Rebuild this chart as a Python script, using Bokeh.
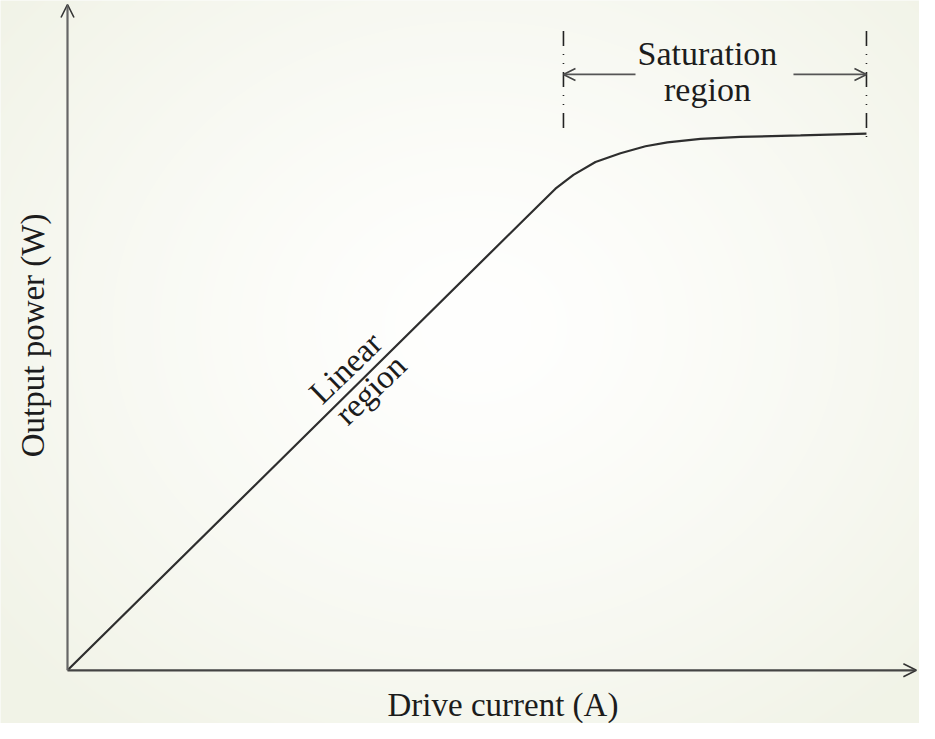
import numpy as np
from bokeh.plotting import figure
from bokeh.models import Range1d, Arrow, OpenHead
from bokeh.core.properties import value
from bokeh.embed import file_html
from bokeh.resources import INLINE

# ---- data (arbitrary units) ----
curve_x = [0.0, 5.449, 5.622, 5.829, 6.083, 6.371, 6.659, 6.912, 7.293, 7.753, 8.445, 9.205]
curve_y = [0.0, 6.991, 7.212, 7.419, 7.611, 7.743, 7.847, 7.906, 7.957, 7.987, 8.009, 8.038]

sat_left_x = 5.714
sat_right_x = 9.205
sat_top_y = 9.572
sat_left_bottom_y = 8.009
sat_right_bottom_y = 7.950
sat_arrow_y = 8.923
sat_arrow_left_tail = 6.544
sat_arrow_right_tail = 8.364

x_axis_end = 9.78
y_axis_end = 9.97

x_label = "Drive current (A)"
y_label = "Output power (W)"
sat_labels = ["Saturation", "region"]
lin_labels = ["Linear", "region"]

W, H = 919, 723
x0, x1 = -0.7719, 9.816
y0, y1 = -0.7965, 10.030

p = figure(width=W, height=H, x_range=Range1d(x0, x1), y_range=Range1d(y0, y1),
           x_axis_type=None, y_axis_type=None, toolbar_location=None,
           output_backend="svg", min_border=0)
p.outline_line_color = None
p.grid.visible = False
p.background_fill_color = "#f8f9f3"
p.border_fill_color = "#f8f9f3"

# background radial gradient (styling only)
yy, xx = np.mgrid[0:H, 0:W]
cx, cy = 475, 325
r = np.sqrt(((xx - cx) / 620.0) ** 2 + ((yy - cy) / 520.0) ** 2)
t = np.clip(r, 0, 1) ** 1.3
c_in = np.array([255, 255, 254])
c_out = np.array([241, 243, 231])
rgb = c_in[None, None, :] * (1 - t[..., None]) + c_out[None, None, :] * t[..., None]
rgb = rgb[::-1].astype(np.uint32)
img = (255 << 24) | (rgb[..., 2] << 16) | (rgb[..., 1] << 8) | rgb[..., 0]
img = img.astype(np.uint32)
p.image_rgba(image=[img], x=x0, y=y0, dw=x1 - x0, dh=y1 - y0)

font = value("Liberation Serif")
tc = "#1c1c1c"

# axes with arrowheads
p.add_layout(Arrow(end=OpenHead(size=13, line_color="#333333", line_width=1.6),
                   x_start=0, y_start=0, x_end=x_axis_end, y_end=0,
                   line_color="#444444", line_width=2.2))
p.add_layout(Arrow(end=OpenHead(size=13, line_color="#333333", line_width=1.6),
                   x_start=0, y_start=0, x_end=0, y_end=y_axis_end,
                   line_color="#666666", line_width=2.2))

# curve
p.line(curve_x, curve_y, line_color="#2e2e2e", line_width=2.2)

# saturation boundaries
p.segment(x0=[sat_left_x, sat_right_x], y0=[sat_top_y, sat_top_y],
          x1=[sat_left_x, sat_right_x], y1=[sat_left_bottom_y, sat_right_bottom_y],
          line_color="#222222", line_width=1.6, line_dash="15 8 1 8 1 8")

# saturation arrows
for tail, tip in [(sat_arrow_left_tail, sat_left_x), (sat_arrow_right_tail, sat_right_x)]:
    p.add_layout(Arrow(end=OpenHead(size=12, line_color="#444444", line_width=1.6),
                       x_start=tail, y_start=sat_arrow_y, x_end=tip, y_end=sat_arrow_y,
                       line_color="#555555", line_width=1.8))

# texts
p.text(x=[7.373, 7.373], y=[9.236, 8.690], text=sat_labels, text_font=font,
       text_font_size="34px", text_align="center", text_baseline="middle",
       text_color=tc)

p.text(x=[5.017], y=[-0.512], text=[x_label], text_font=font, text_font_size="33px",
       text_align="center", text_baseline="middle", text_color=tc)

p.text(x=[-0.403], y=[5.015], text=[y_label], text_font=font, text_font_size="33px",
       text_align="center", text_baseline="middle", angle=np.pi / 2,
       text_color=tc)

ang = np.deg2rad(44.0)
p.text(x=[3.203, 3.491], y=[4.528, 4.204], text=lin_labels, text_font=font,
       text_font_size="33px", text_align="center", text_baseline="middle",
       angle=ang, text_color=tc)

open("out.html", "w").write(file_html(p, INLINE))
